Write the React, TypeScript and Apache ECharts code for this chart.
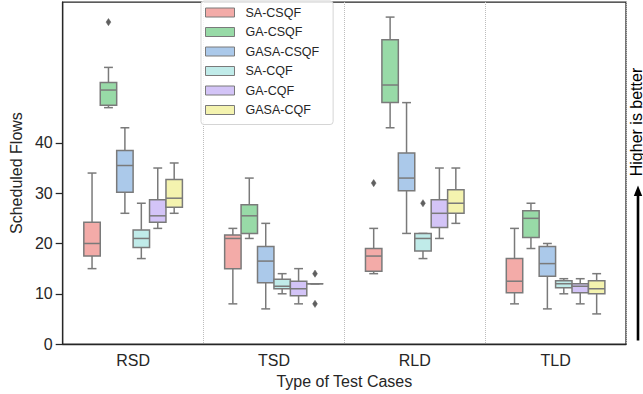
import React, { useEffect, useRef } from 'react';
import * as echarts from 'echarts';

const categories = ['RSD', 'TSD', 'RLD', 'TLD'];
const seriesNames = ['SA-CSQF', 'GA-CSQF', 'GASA-CSQF', 'SA-CQF', 'GA-CQF', 'GASA-CQF'];
const fillColors = ['#f3aba8', '#98daa7', '#abc9ea', '#c0ebe9', '#d3c4f7', '#f4f3af'];

// five-number summaries [min whisker, q1, median, q3, max whisker] per category
const saCsqf = [[15, 17.5, 20, 24.2, 34], [8, 15, 21, 21.7, 23], [14, 14.5, 17.5, 19, 23], [8, 10.2, 12.5, 17, 23]];
const gaCsqf = [[47, 47.5, 50.5, 52, 55], [21, 22, 25.5, 27.7, 33], [43, 48, 51.5, 60.5, 65], [19, 21.2, 25, 26.5, 28]];
const gasaCsqf = [[26, 30.2, 35.5, 38.5, 43], [7, 12.2, 16.5, 19.4, 24], [22, 30.5, 33, 38, 48], [7, 13.5, 16, 19.4, 20]];
const saCqf = [[17, 19.2, 21, 22.7, 28], [10, 11, 11.5, 12.9, 14], [17, 18.5, 21, 22, 22], [10, 11.2, 12, 12.6, 13]];
const gaCqf = [[23, 24.2, 25.5, 28.7, 35], [8, 9.6, 11, 12.5, 15], [21, 23.2, 26, 28.7, 35], [8, 10.2, 11.5, 12, 13]];
const gasaCqf = [[26, 27.2, 29, 32.7, 36], [12, 12, 12, 12, 12], [24, 26, 28, 30.7, 35], [6, 10, 11, 12.6, 14]];

// outliers [categoryIndex, value]
const saCsqfOut = [[2, 32]];
const gaCsqfOut = [[0, 64]];
const gasaCsqfOut: number[][] = [];
const saCqfOut = [[2, 28]];
const gaCqfOut: number[][] = [];
const gasaCqfOut = [[1, 14], [1, 8]];

const yTicks = [0, 10, 20, 30, 40];

const boxStats = [saCsqf, gaCsqf, gasaCsqf, saCqf, gaCqf, gasaCqf];
const outlierStats = [saCsqfOut, gaCsqfOut, gasaCsqfOut, saCqfOut, gaCqfOut, gasaCqfOut];

const LINE = '#7a7a7a';
const INK = '#262626';
const FONT = '"Liberation Sans", Arial, sans-serif';
const GROUP_FRAC = 0.7;

export default function App() {
  const ref = useRef<HTMLDivElement>(null);
  useEffect(() => {
    const chart = echarts.init(ref.current!, null, { renderer: 'svg' });
    const n = seriesNames.length;
    const offsetOf = (h: number, band: number) => (h - (n - 1) / 2) * (band * GROUP_FRAC / n);

    const boxSeries = seriesNames.map((name, h) => ({
      type: 'custom',
      name,
      data: boxStats[h].map((s, i) => [i, ...s]),
      encode: { x: 0, y: [1, 2, 3, 4, 5] },
      itemStyle: { color: fillColors[h], borderColor: LINE },
      z: 3,
      renderItem: (params: any, api: any) => {
        const cat = api.value(0);
        const band = api.size([1, 0])[0];
        const bw = band * GROUP_FRAC / n;
        const cx = api.coord([cat, 0])[0] + offsetOf(h, band);
        const yMin = api.coord([cat, api.value(1)])[1];
        const yQ1 = api.coord([cat, api.value(2)])[1];
        const yMed = api.coord([cat, api.value(3)])[1];
        const yQ3 = api.coord([cat, api.value(4)])[1];
        const yMax = api.coord([cat, api.value(5)])[1];
        const cap = bw * 0.27;
        const ls = { stroke: LINE, lineWidth: 1.5 };
        return {
          type: 'group',
          children: [
            { type: 'line', shape: { x1: cx, y1: yMax, x2: cx, y2: yQ3 }, style: ls },
            { type: 'line', shape: { x1: cx, y1: yQ1, x2: cx, y2: yMin }, style: ls },
            { type: 'line', shape: { x1: cx - cap, y1: yMax, x2: cx + cap, y2: yMax }, style: ls },
            { type: 'line', shape: { x1: cx - cap, y1: yMin, x2: cx + cap, y2: yMin }, style: ls },
            {
              type: 'rect',
              shape: { x: cx - bw / 2, y: yQ3, width: bw, height: yQ1 - yQ3 },
              style: { fill: fillColors[h], stroke: LINE, lineWidth: 1.5 },
            },
            { type: 'line', shape: { x1: cx - bw / 2, y1: yMed, x2: cx + bw / 2, y2: yMed }, style: ls },
          ],
        };
      },
    }));

    const outSeries = seriesNames.map((name, h) => ({
      type: 'custom',
      name: name + ' outliers',
      data: outlierStats[h],
      encode: { x: 0, y: 1 },
      z: 3,
      renderItem: (params: any, api: any) => {
        const cat = api.value(0);
        const band = api.size([1, 0])[0];
        const p = api.coord([cat, api.value(1)]);
        const x = p[0] + offsetOf(h, band);
        const y = p[1];
        return {
          type: 'polygon',
          shape: { points: [[x, y - 3.6], [x + 2.4, y], [x, y + 3.6], [x - 2.4, y]] },
          style: { fill: '#5f5f5f', stroke: '#5f5f5f', lineWidth: 0.5 },
        };
      },
    }));

    chart.setOption({
      animation: false,
      backgroundColor: '#fff',
      textStyle: { fontFamily: FONT },
      grid: {
        left: 51, right: 17, top: 2, bottom: 48,
        show: true, borderColor: INK, borderWidth: 1.25, backgroundColor: 'transparent',
      },
      legend: {
        orient: 'vertical',
        left: 201,
        top: 1,
        icon: 'rect',
        itemWidth: 29,
        itemHeight: 9,
        itemGap: 6.5,
        padding: [5, 14, 8, 4],
        backgroundColor: 'rgba(255,255,255,0.85)',
        borderColor: '#d5d5d5',
        borderWidth: 1,
        borderRadius: 3,
        textStyle: { fontFamily: FONT, fontSize: 12.5, color: INK, lineHeight: 13, padding: [0, 0, 0, 6] },
        data: seriesNames.map((name, h) => ({
          name,
          itemStyle: { color: fillColors[h], borderColor: LINE, borderWidth: 1 },
        })),
      },
      xAxis: {
        type: 'category',
        data: categories,
        name: 'Type of Test Cases',
        nameLocation: 'middle',
        nameGap: 28,
        nameTextStyle: { fontFamily: FONT, fontSize: 16, color: INK },
        axisLine: { lineStyle: { color: INK, width: 1.25 } },
        axisTick: { alignWithLabel: true, length: 6, lineStyle: { color: INK, width: 1.25 } },
        axisLabel: { fontFamily: FONT, fontSize: 16, color: INK, margin: 8 },
        splitLine: { show: true, lineStyle: { color: '#bdbdbd', type: 'dotted', width: 1 } },
      },
      yAxis: {
        type: 'value',
        min: 0,
        max: 68,
        interval: 10,
        name: 'Scheduled Flows',
        nameLocation: 'middle',
        nameGap: 33,
        nameTextStyle: { fontFamily: FONT, fontSize: 16, color: INK },
        axisLine: { show: true, lineStyle: { color: INK, width: 1.25 } },
        axisTick: { show: true, length: 7, customValues: yTicks, lineStyle: { color: INK, width: 1.25 } },
        axisLabel: {
          fontFamily: FONT, fontSize: 16, color: INK, margin: 10,
          customValues: yTicks,
          formatter: (v: number) => (v <= 40 ? String(v) : ''),
        },
        splitLine: { show: false },
      },
      graphic: [
        {
          type: 'line',
          shape: { x1: 638, y1: 340.5, x2: 638, y2: 194 },
          style: { stroke: '#000', lineWidth: 2.6 },
        },
        {
          type: 'polygon',
          shape: { points: [[638, 185.5], [633.8, 196], [642.2, 196]] },
          style: { fill: '#000' },
        },
        {
          type: 'text',
          x: 636,
          y: 122,
          rotation: Math.PI / 2,
          style: {
            text: 'Higher is better',
            fontFamily: FONT,
            fontSize: 16,
            fill: '#000',
            align: 'center',
            verticalAlign: 'middle',
          },
        },
      ],
      series: [...boxSeries, ...outSeries],
    });
    return () => chart.dispose();
  }, []);
  return <div ref={ref} style={{ position: 'fixed', left: 0, top: 0, width: 643, height: 394 }} />;
}
